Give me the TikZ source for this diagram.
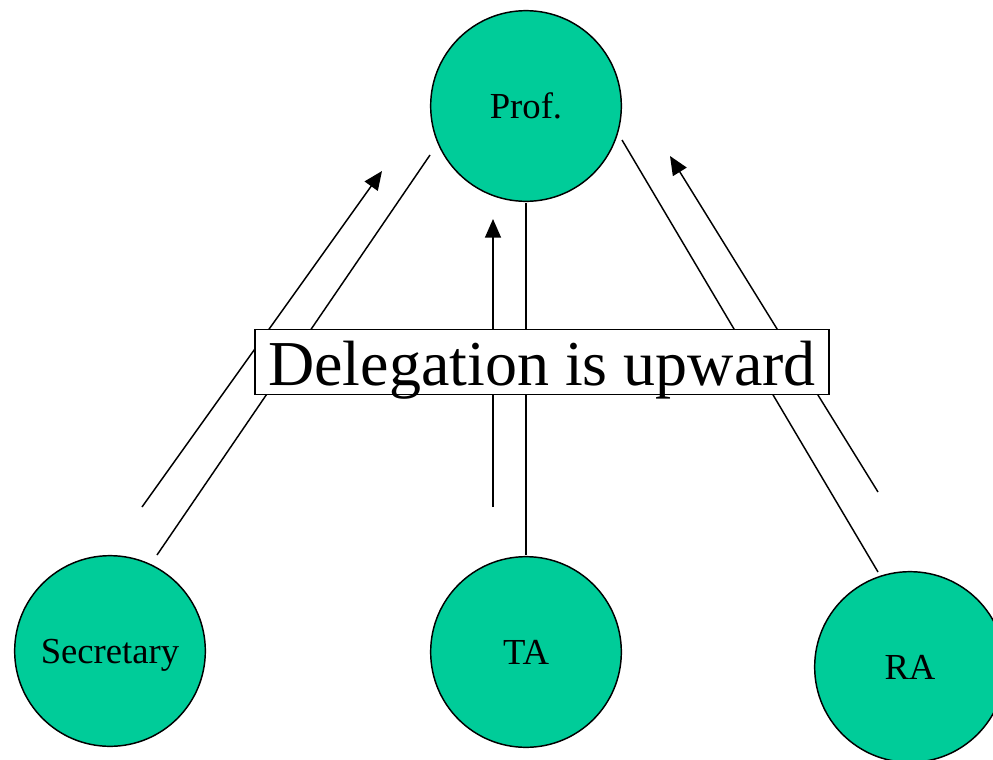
\documentclass[tikz,border=0pt]{standalone}
\usepackage{fontspec}
\setmainfont{Liberation Serif}
\usetikzlibrary{arrows.meta}
\definecolor{rolefill}{RGB}{0,204,153}
\begin{document}
\begin{tikzpicture}[x=0.75pt,y=-0.75pt,
  role/.style={circle,draw=black,line width=1.1pt,fill=rolefill,minimum size=143pt,inner sep=0pt,text depth=0pt,font=\fontsize{27.5pt}{30pt}\selectfont},
  link/.style={line width=1.1pt},
  up/.style={line width=1.1pt,-{Triangle[length=14pt,width=12pt]}},
  banner/.style={draw=black,fill=white,line width=1.1pt,inner xsep=10pt,inner ysep=0pt,text height=42pt,text depth=6.75pt,font=\fontsize{48pt}{52pt}\selectfont}]
\useasboundingbox (0,0) rectangle (993,760);
\clip (0,0) rectangle (993,760);
% people
\node[role] (prof) at (526,106) {Prof.};
\node[role] (sec) at (110,651) {Secretary};
\node[role] (ta) at (526,652) {TA};
\node[role] (ra) at (910,667) {RA};
% reporting lines
\coordinate (p1) at (430,155); \coordinate (s1) at (157,555);
\coordinate (p2) at (526,203); \coordinate (t2) at (526,555);
\coordinate (p3) at (622,140); \coordinate (r3) at (878,572);
\draw[link] (p1) -- (s1);
\draw[link] (p2) -- (t2);
\draw[link] (p3) -- (r3);
% delegation arrows
\coordinate (a1) at (142,507); \coordinate (b1) at (382,171);
\coordinate (a2) at (493,507); \coordinate (b2) at (493,219);
\coordinate (a3) at (878,492); \coordinate (b3) at (670,156);
\draw[up] (a1) -- (b1);
\draw[up] (a2) -- (b2);
\draw[up] (a3) -- (b3);
% caption
\node[banner] (cap) at (542,362) {Delegation is upward};
\end{tikzpicture}
\end{document}
